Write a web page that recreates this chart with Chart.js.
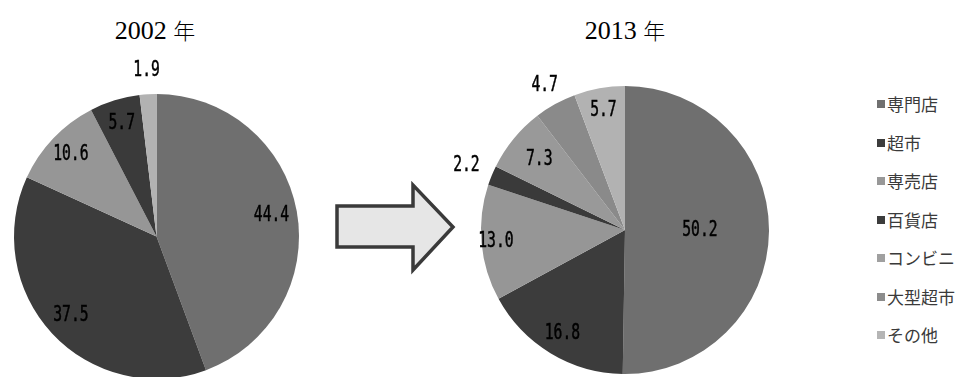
<!DOCTYPE html>
<html>
<head>
<meta charset="utf-8">
<script src="https://cdn.jsdelivr.net/npm/chart.js@4"></script>
<style>
  html, body { margin: 0; padding: 0; background: #fff; overflow: hidden; }
  body { width: 965px; height: 377px; position: relative; }
  .box { position: absolute; }
  .title { position: absolute; top: 13px; width: 200px; text-align: center;
           font: 26px "Liberation Serif", "Noto Sans CJK JP", serif; color: #000; }
  .title span { font-family: "Noto Sans CJK JP", sans-serif; font-size: 22px; font-weight: 300; }
  #legend { position: absolute; left: 877px; top: 90px; font: 17px "Noto Sans CJK JP", sans-serif; color: #3a3a3a; }
  #legend div { height: 38.5px; line-height: 28px; white-space: nowrap; }
  #legend i { display: inline-block; width: 8px; height: 8px; margin-right: 2px; vertical-align: 3px; }
</style>
</head>
<body>
<div class="title" style="left:55px">2002 <span>年</span></div>
<div class="title" style="left:525px">2013 <span>年</span></div>

<svg class="box" style="left:0;top:0" width="965" height="377">
  <polygon points="337,206 413,206 413,185 453,227 413,270 413,247 337,247"
           fill="#e6e6e6" stroke="#3a3a3a" stroke-width="3.5" stroke-linejoin="miter"/>
</svg>

<div class="box" style="left:-20px;top:54px;width:353px;height:365px"><canvas id="pie2002"></canvas></div>
<div class="box" style="left:447px;top:46px;width:356px;height:368px"><canvas id="pie2013"></canvas></div>
<div id="legend"></div>

<script>
  // 業態別シェア（%）
  const categories = ["専門店", "超市", "専売店", "百貨店", "コンビニ", "大型超市", "その他"];
  const values2002 = [44.4, 37.5, 10.6, 5.7, 0, 0, 1.9];
  const values2013 = [50.2, 16.8, 13.0, 2.2, 7.3, 4.7, 5.7];

  const sliceColors = ["#6f6f6f", "#3c3c3c", "#969696", "#3a3a3a", "#999999", "#8a8a8a", "#b2b2b2"];
  const legendColors = ["#707070", "#3c3c3c", "#989898", "#3c3c3c", "#a0a0a0", "#8c8c8c", "#b5b5b5"];

  // 値ラベルを扇形の中（または外）に描く
  const valueLabels = {
    id: "valueLabels",
    afterDatasetsDraw(chart, args, opts) {
      const ctx = chart.ctx;
      const meta = chart.getDatasetMeta(0);
      const data = chart.data.datasets[0].data;
      ctx.save();
      ctx.fillStyle = "#000";
      ctx.strokeStyle = "#000";
      ctx.lineWidth = 0.5;
      ctx.font = '21px "DejaVu Sans Mono", monospace';
      ctx.textAlign = "center";
      ctx.textBaseline = "middle";
      meta.data.forEach((arc, i) => {
        const v = data[i];
        if (!v) return;
        const p = arc.getProps(["x", "y", "startAngle", "endAngle", "outerRadius"], true);
        const mid = (p.startAngle + p.endAngle) / 2;
        const r = p.outerRadius * (opts.radius[i] || 0.8);
        const x = p.x + Math.cos(mid) * r;
        const y = p.y + Math.sin(mid) * r;
        ctx.save();
        ctx.translate(x, y);
        ctx.scale(0.7, 1);
        ctx.fillText(v.toFixed(1), 0, 0);
        ctx.strokeText(v.toFixed(1), 0, 0);
        ctx.restore();
      });
      ctx.restore();
    },
  };

  function makePie(id, values, radius) {
    const canvas = document.getElementById(id);
    return new Chart(canvas.getContext("2d"), {
      type: "pie",
      data: {
        labels: categories,
        datasets: [{
          data: values,
          backgroundColor: sliceColors,
          borderWidth: 0,
        }],
      },
      options: {
        responsive: true,
        maintainAspectRatio: false,
        animation: false,
        layout: { padding: { left: 34, right: 34, top: 40, bottom: 40 } },
        plugins: {
          legend: { display: false },
          tooltip: { enabled: false },
          valueLabels: { radius: radius },
        },
      },
      plugins: [valueLabels],
    });
  }

  makePie("pie2002", values2002, [0.82, 0.82, 0.83, 0.83, 0.8, 0.8, 1.17]);
  makePie("pie2013", values2013, [0.52, 0.84, 0.9, 1.19, 0.77, 1.15, 0.84]);

  // 凡例（両グラフ共通）
  const legend = document.getElementById("legend");
  categories.forEach((name, i) => {
    const row = document.createElement("div");
    const sw = document.createElement("i");
    sw.style.background = legendColors[i];
    row.appendChild(sw);
    row.appendChild(document.createTextNode(name));
    legend.appendChild(row);
  });
</script>
</body>
</html>
